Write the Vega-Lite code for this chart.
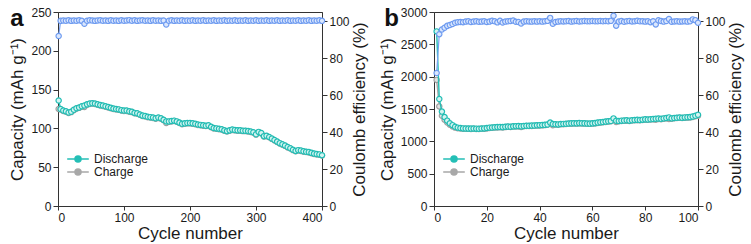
{
  "$schema": "https://vega.github.io/schema/vega-lite/v6.json",
  "padding": {"left": 8, "top": 5, "right": 2, "bottom": 0},
  "background": "white",
  "spacing": 9,
  "resolve": {"scale": {"color": "independent"}, "legend": {"color": "independent"}},
  "config": {
    "font": "Liberation Sans",
    "view": {"stroke": "#333", "strokeWidth": 1},
    "axis": {"domainColor": "#333", "tickColor": "#333", "labelColor": "#1a1a1a", "titleColor": "#1a1a1a", "labelFontSize": 12, "titleFontSize": 17, "titleFontWeight": "normal", "grid": false, "tickSize": 5, "labelPadding": 2, "labelFont": "Liberation Sans", "titleFont": "Liberation Sans", "labelOverlap": false, "format": "d"},
    "axisX": {"tickSize": 4},
    "legend": {"orient": "none", "legendX": 13, "legendY": 140, "title": null, "padding": 0, "symbolType": "M-1.8,0L-0.5,0M0.5,0L1.8,0M0.5,0A0.5,0.5,0,1,1,-0.5,0A0.5,0.5,0,1,1,0.5,0Z", "symbolSize": 144, "symbolStrokeWidth": 1.5, "labelFontSize": 12, "labelOffset": 9, "rowPadding": 0, "labelFont": "Liberation Sans", "labelColor": "#1a1a1a"}
  },
  "hconcat": [
    {
      "width": 264,
      "height": 194,
      "data": {"values": [
        {"c":1,"d":136,"q":125,"e":92},{"c":4,"d":125,"q":124.4,"e":100.2},{"c":8,"d":123,"q":122.5,"e":100.4},{"c":12,"d":122,"q":121.5,"e":100.3},{"c":16,"d":120.5,"q":120,"e":100.5},{"c":20,"d":121.5,"q":121,"e":100.2},{"c":24,"d":124,"q":123.5,"e":100.4},{"c":28,"d":126,"q":125.5,"e":100.3},{"c":32,"d":127,"q":126.5,"e":100.5},{"c":36,"d":128.5,"q":128,"e":100.2},{"c":40,"d":129.5,"q":127.5,"e":98.6},{"c":44,"d":131,"q":130.5,"e":100.3},{"c":48,"d":132,"q":131.5,"e":100.5},{"c":52,"d":132.5,"q":132,"e":100.4},{"c":56,"d":132,"q":131.5,"e":100.2},{"c":60,"d":131,"q":130.5,"e":100.4},{"c":64,"d":130,"q":129.5,"e":100.5},{"c":68,"d":129.5,"q":129,"e":100.3},{"c":72,"d":128.5,"q":128,"e":100.4},{"c":76,"d":127.5,"q":127,"e":100.2},{"c":80,"d":126.5,"q":126,"e":100.5},{"c":84,"d":125.5,"q":125,"e":100.3},{"c":88,"d":125,"q":124.5,"e":100.4},{"c":92,"d":124.5,"q":124,"e":100.2},{"c":96,"d":123.5,"q":123,"e":100.5},{"c":100,"d":123,"q":122.5,"e":100.3},{"c":104,"d":123,"q":122.5,"e":100.4},{"c":108,"d":122,"q":121.5,"e":100.6},{"c":112,"d":121.5,"q":121,"e":100.3},{"c":116,"d":120,"q":119.5,"e":100.5},{"c":120,"d":119.5,"q":119,"e":100.2},{"c":124,"d":118,"q":117.5,"e":100.4},{"c":128,"d":116.5,"q":116,"e":100.5},{"c":132,"d":116,"q":115.5,"e":100.3},{"c":136,"d":115,"q":114.5,"e":100.4},{"c":140,"d":114.5,"q":114,"e":100.2},{"c":144,"d":114,"q":113.5,"e":100.5},{"c":148,"d":113,"q":112.5,"e":100.3},{"c":152,"d":114,"q":113.5,"e":100.4},{"c":156,"d":113,"q":112.5,"e":100.2},{"c":160,"d":111,"q":110.5,"e":100.4},{"c":164,"d":109,"q":107,"e":98.2},{"c":168,"d":109,"q":108.5,"e":100.3},{"c":172,"d":109.5,"q":109,"e":100.5},{"c":176,"d":110,"q":109.5,"e":100.2},{"c":180,"d":109,"q":108.5,"e":100.4},{"c":184,"d":107.5,"q":107,"e":100.3},{"c":188,"d":106,"q":105.5,"e":100.5},{"c":192,"d":106.5,"q":106,"e":100.2},{"c":196,"d":107,"q":106.5,"e":100.4},{"c":200,"d":107,"q":106.5,"e":100.3},{"c":204,"d":106.5,"q":106,"e":100.5},{"c":208,"d":106,"q":105.5,"e":100.2},{"c":212,"d":105,"q":104.5,"e":100.4},{"c":216,"d":104.5,"q":104,"e":100.3},{"c":220,"d":104,"q":103.5,"e":100.5},{"c":224,"d":103.5,"q":103,"e":100.2},{"c":228,"d":104,"q":103.5,"e":100.4},{"c":232,"d":102,"q":101.5,"e":100.3},{"c":236,"d":100.5,"q":100,"e":100.5},{"c":240,"d":100,"q":99.5,"e":100.2},{"c":244,"d":99.5,"q":99,"e":100.4},{"c":248,"d":99,"q":98.5,"e":100.3},{"c":252,"d":97.5,"q":97,"e":100.5},{"c":256,"d":96.5,"q":96,"e":100.2},{"c":260,"d":97.5,"q":97,"e":100.4},{"c":264,"d":98.5,"q":98,"e":100.3},{"c":268,"d":98,"q":97.5,"e":100.5},{"c":272,"d":97.5,"q":97,"e":100.2},{"c":276,"d":97.5,"q":97,"e":100.4},{"c":280,"d":97,"q":96.5,"e":100.3},{"c":284,"d":97,"q":96.5,"e":100.5},{"c":288,"d":96.5,"q":96,"e":100.2},{"c":292,"d":96,"q":95.5,"e":100.4},{"c":296,"d":95,"q":94.5,"e":100.3},{"c":300,"d":92.5,"q":92,"e":100.5},{"c":304,"d":95.5,"q":95,"e":100.2},{"c":308,"d":94,"q":93.5,"e":100.4},{"c":312,"d":90,"q":89.5,"e":100.3},{"c":316,"d":90.5,"q":90,"e":100.5},{"c":320,"d":89,"q":88.5,"e":100.2},{"c":324,"d":87,"q":86.5,"e":100.4},{"c":328,"d":85,"q":84.5,"e":100.3},{"c":332,"d":83,"q":82.5,"e":100.5},{"c":336,"d":81,"q":80.5,"e":100.2},{"c":340,"d":79.5,"q":79,"e":100.4},{"c":344,"d":78,"q":77.5,"e":100.3},{"c":348,"d":76,"q":75.5,"e":100.5},{"c":352,"d":74.5,"q":74,"e":100.2},{"c":356,"d":72.5,"q":72,"e":100.4},{"c":360,"d":71,"q":70.5,"e":100.3},{"c":364,"d":72,"q":71.5,"e":100.5},{"c":368,"d":71.5,"q":71,"e":100.2},{"c":372,"d":70.5,"q":70,"e":100.4},{"c":376,"d":70,"q":69.5,"e":100.3},{"c":380,"d":69.5,"q":69,"e":100.5},{"c":384,"d":68.5,"q":68,"e":100.2},{"c":388,"d":67.5,"q":67,"e":100.4},{"c":392,"d":67,"q":66.5,"e":100.3},{"c":396,"d":66.5,"q":66,"e":100.5},{"c":400,"d":65.5,"q":65,"e":100.2}
      ]},
      "layer": [
        {
          "encoding": {
            "x": {"field": "c", "type": "quantitative", "scale": {"domain": [0, 400], "nice": false}, "axis": {"values": [0, 100, 200, 300, 400], "title": "Cycle number", "titlePadding": 2, "labelOverlap": false}}
          },
          "layer": [
            {"mark": {"type": "line", "strokeWidth": 1.4},
             "encoding": {"y": {"field": "q", "type": "quantitative", "scale": {"domain": [0, 250], "nice": false}, "axis": {"values": [0, 50, 100, 150, 200, 250], "tickCount": 6, "labelOverlap": false, "title": "Capacity (mAh g⁻¹)", "titlePadding": 4}},
               "color": {"datum": "Charge", "scale": {"domain": ["Discharge", "Charge"], "range": ["#24bfb6", "#a8a8a8"]}, "legend": {"encode": {"symbols": {"update": {"fill": {"signal": "datum.value === 'Discharge' ? '#24bfb6' : '#a8a8a8'"}, "stroke": {"signal": "datum.value === 'Discharge' ? '#24bfb6' : '#a8a8a8'"}}}}}}}},
            {"mark": {"type": "point", "shape": "circle", "size": 28, "strokeWidth": 1.2, "stroke": "#a0a0a0", "fill": "#e2e2e2", "opacity": 1},
             "encoding": {"y": {"field": "q", "type": "quantitative"}}},
            {"mark": {"type": "line", "strokeWidth": 1.4},
             "encoding": {"y": {"field": "d", "type": "quantitative"}, "color": {"datum": "Discharge"}}},
            {"mark": {"type": "point", "shape": "circle", "size": 28, "strokeWidth": 1.2, "stroke": "#22bdb4", "fill": "#d4f4f1", "opacity": 1},
             "encoding": {"y": {"field": "d", "type": "quantitative"}}},
            {"data": {"values": [{}]},
             "mark": {"type": "text", "align": "left", "baseline": "middle", "fontSize": 12, "font": "Liberation Sans", "color": "#1a1a1a"},
             "encoding": {"x": {"datum": 221}, "y": {"datum": 129.5}, "text": {"value": "100 mA g⁻¹"}}}
          ]
        },
        {
          "encoding": {
            "x": {"field": "c", "type": "quantitative", "scale": {"domain": [0, 400], "nice": false}, "axis": {"orient": "top", "title": "a", "labels": false, "ticks": false, "domain": false, "titleX": -41.5, "titleY": 13, "titleFontSize": 24, "titleFontWeight": "bold", "titleAlign": "center", "titleBaseline": "alphabetic", "titleAngle": 0, "titleColor": "#111"}},
            "y": {"field": "e", "type": "quantitative", "scale": {"domain": [0, 105], "nice": false}, "axis": {"orient": "right", "values": [0, 20, 40, 60, 80, 100], "labelOverlap": false, "title": "Coulomb efficiency (%)", "titleAngle": 270, "titleBaseline": "top", "titlePadding": 2}}
          },
          "layer": [
            {"mark": {"type": "line", "strokeWidth": 1.2, "color": "#7aa3f3"}},
            {"mark": {"type": "point", "shape": "circle", "size": 28, "strokeWidth": 1.2, "stroke": "#6e9bf0", "fill": "#dbe7fd", "opacity": 1}}
          ]
        }
      ],
      "resolve": {"scale": {"y": "independent", "x": "independent"}}
    },
    {
      "width": 264,
      "height": 194,
      "data": {"values": [
        {"c":1,"d":2700,"q":1950,"e":72},{"c":2,"d":1655,"q":1540,"e":93},{"c":3,"d":1460,"q":1395,"e":95.5},{"c":4,"d":1375,"q":1335,"e":96.5},{"c":5,"d":1320,"q":1292,"e":97.5},{"c":6,"d":1280,"q":1258,"e":98},{"c":7,"d":1250,"q":1232,"e":98.5},{"c":8,"d":1225,"q":1212,"e":99.2},{"c":9,"d":1212,"q":1203,"e":99.5},{"c":10,"d":1205,"q":1198,"e":99.6},
        {"c":11,"d":1200,"q":1195,"e":99.5},{"c":12,"d":1198,"q":1194,"e":99.8},{"c":13,"d":1197,"q":1193,"e":100},{"c":14,"d":1197,"q":1192,"e":99.6},{"c":15,"d":1198,"q":1194,"e":99.8},{"c":16,"d":1196,"q":1192,"e":100},{"c":17,"d":1195,"q":1191,"e":99.7},{"c":18,"d":1198,"q":1194,"e":99.8},{"c":19,"d":1200,"q":1196,"e":100},{"c":20,"d":1205,"q":1200,"e":99.6},
        {"c":21,"d":1212,"q":1207,"e":99.8},{"c":22,"d":1215,"q":1211,"e":100.2},{"c":23,"d":1218,"q":1213,"e":100},{"c":24,"d":1220,"q":1214,"e":99.4},{"c":25,"d":1222,"q":1218,"e":100.2},{"c":26,"d":1220,"q":1213,"e":99.3},{"c":27,"d":1225,"q":1220,"e":99.8},{"c":28,"d":1228,"q":1224,"e":100},{"c":29,"d":1226,"q":1222,"e":100.1},{"c":30,"d":1232,"q":1229,"e":100.4},
        {"c":31,"d":1235,"q":1230,"e":99.7},{"c":32,"d":1236,"q":1231,"e":99.6},{"c":33,"d":1232,"q":1222,"e":98.8},{"c":34,"d":1238,"q":1234,"e":99.8},{"c":35,"d":1240,"q":1236,"e":100},{"c":36,"d":1242,"q":1238,"e":99.9},{"c":37,"d":1243,"q":1238,"e":99.8},{"c":38,"d":1245,"q":1241,"e":100},{"c":39,"d":1248,"q":1243,"e":99.8},{"c":40,"d":1250,"q":1246,"e":100},
        {"c":41,"d":1252,"q":1247,"e":99.8},{"c":42,"d":1255,"q":1251,"e":100},{"c":43,"d":1260,"q":1256,"e":100.2},{"c":44,"d":1290,"q":1275,"e":101.8},{"c":45,"d":1268,"q":1250,"e":98.6},{"c":46,"d":1265,"q":1260,"e":99.6},{"c":47,"d":1262,"q":1258,"e":99.8},{"c":48,"d":1268,"q":1264,"e":100},{"c":49,"d":1270,"q":1265,"e":99.9},{"c":50,"d":1272,"q":1268,"e":100},
        {"c":51,"d":1275,"q":1271,"e":100.1},{"c":52,"d":1278,"q":1273,"e":99.8},{"c":53,"d":1280,"q":1276,"e":100},{"c":54,"d":1278,"q":1274,"e":100.1},{"c":55,"d":1282,"q":1277,"e":99.9},{"c":56,"d":1280,"q":1276,"e":100},{"c":57,"d":1278,"q":1274,"e":100.1},{"c":58,"d":1276,"q":1272,"e":100},{"c":59,"d":1274,"q":1270,"e":100},{"c":60,"d":1278,"q":1274,"e":100.1},
        {"c":61,"d":1282,"q":1277,"e":100},{"c":62,"d":1290,"q":1285,"e":100},{"c":63,"d":1295,"q":1290,"e":100.1},{"c":64,"d":1300,"q":1295,"e":100},{"c":65,"d":1305,"q":1300,"e":100.1},{"c":66,"d":1310,"q":1305,"e":100},{"c":67,"d":1315,"q":1310,"e":100.2},{"c":68,"d":1355,"q":1335,"e":103},{"c":69,"d":1318,"q":1300,"e":97.6},{"c":70,"d":1315,"q":1310,"e":99.8},
        {"c":71,"d":1320,"q":1316,"e":100.1},{"c":72,"d":1322,"q":1317,"e":99.7},{"c":73,"d":1325,"q":1320,"e":100},{"c":74,"d":1320,"q":1316,"e":100.1},{"c":75,"d":1326,"q":1321,"e":99.9},{"c":76,"d":1330,"q":1325,"e":100},{"c":77,"d":1332,"q":1327,"e":100.2},{"c":78,"d":1330,"q":1326,"e":100},{"c":79,"d":1335,"q":1330,"e":100},{"c":80,"d":1340,"q":1335,"e":99.8},
        {"c":81,"d":1338,"q":1333,"e":100},{"c":82,"d":1342,"q":1337,"e":99.5},{"c":83,"d":1345,"q":1340,"e":100},{"c":84,"d":1350,"q":1335,"e":98.3},{"c":85,"d":1352,"q":1347,"e":100.5},{"c":86,"d":1348,"q":1343,"e":100.1},{"c":87,"d":1355,"q":1350,"e":99.8},{"c":88,"d":1360,"q":1355,"e":100.1},{"c":89,"d":1370,"q":1345,"e":101.2},{"c":90,"d":1355,"q":1350,"e":99.7},
        {"c":91,"d":1360,"q":1356,"e":99.9},{"c":92,"d":1365,"q":1360,"e":100},{"c":93,"d":1368,"q":1363,"e":99.8},{"c":94,"d":1365,"q":1361,"e":99.9},{"c":95,"d":1370,"q":1365,"e":100},{"c":96,"d":1372,"q":1367,"e":99.8},{"c":97,"d":1375,"q":1370,"e":100},{"c":98,"d":1385,"q":1378,"e":101},{"c":99,"d":1395,"q":1388,"e":100.6},{"c":100,"d":1410,"q":1395,"e":99.2}
      ]},
      "layer": [
        {
          "encoding": {
            "x": {"field": "c", "type": "quantitative", "scale": {"domain": [0, 100], "nice": false}, "axis": {"values": [0, 20, 40, 60, 80, 100], "title": "Cycle number", "titlePadding": 2, "labelOverlap": false}}
          },
          "layer": [
            {"mark": {"type": "line", "strokeWidth": 1.4},
             "encoding": {"y": {"field": "q", "type": "quantitative", "scale": {"domain": [0, 3000], "nice": false}, "axis": {"values": [0, 500, 1000, 1500, 2000, 2500, 3000], "tickCount": 7, "labelOverlap": false, "title": "Capacity (mAh g⁻¹)", "titlePadding": 4}},
               "color": {"datum": "Charge", "scale": {"domain": ["Discharge", "Charge"], "range": ["#24bfb6", "#a8a8a8"]}, "legend": {"encode": {"symbols": {"update": {"fill": {"signal": "datum.value === 'Discharge' ? '#24bfb6' : '#a8a8a8'"}, "stroke": {"signal": "datum.value === 'Discharge' ? '#24bfb6' : '#a8a8a8'"}}}}}}}},
            {"mark": {"type": "point", "shape": "circle", "size": 28, "strokeWidth": 1.2, "stroke": "#a0a0a0", "fill": "#e2e2e2", "opacity": 1},
             "encoding": {"y": {"field": "q", "type": "quantitative"}}},
            {"mark": {"type": "line", "strokeWidth": 1.4},
             "encoding": {"y": {"field": "d", "type": "quantitative"}, "color": {"datum": "Discharge"}}},
            {"mark": {"type": "point", "shape": "circle", "size": 28, "strokeWidth": 1.2, "stroke": "#22bdb4", "fill": "#d4f4f1", "opacity": 1},
             "encoding": {"y": {"field": "d", "type": "quantitative"}}},
            {"data": {"values": [{}]},
             "mark": {"type": "text", "align": "left", "baseline": "middle", "fontSize": 12, "font": "Liberation Sans", "color": "#1a1a1a"},
             "encoding": {"x": {"datum": 62}, "y": {"datum": 1644}, "text": {"value": "200 mA g⁻¹"}}}
          ]
        },
        {
          "encoding": {
            "x": {"field": "c", "type": "quantitative", "scale": {"domain": [0, 100], "nice": false}, "axis": {"orient": "top", "title": "b", "labels": false, "ticks": false, "domain": false, "titleX": -43, "titleY": 13, "titleFontSize": 24, "titleFontWeight": "bold", "titleAlign": "center", "titleBaseline": "alphabetic", "titleAngle": 0, "titleColor": "#111"}},
            "y": {"field": "e", "type": "quantitative", "scale": {"domain": [0, 105], "nice": false}, "axis": {"orient": "right", "values": [0, 20, 40, 60, 80, 100], "labelOverlap": false, "title": "Coulomb efficiency (%)", "titleAngle": 270, "titleBaseline": "top", "titlePadding": 2}}
          },
          "layer": [
            {"mark": {"type": "line", "strokeWidth": 1.2, "color": "#7aa3f3"}},
            {"mark": {"type": "point", "shape": "circle", "size": 28, "strokeWidth": 1.2, "stroke": "#6e9bf0", "fill": "#dbe7fd", "opacity": 1}}
          ]
        }
      ],
      "resolve": {"scale": {"y": "independent", "x": "independent"}}
    }
  ]
}
